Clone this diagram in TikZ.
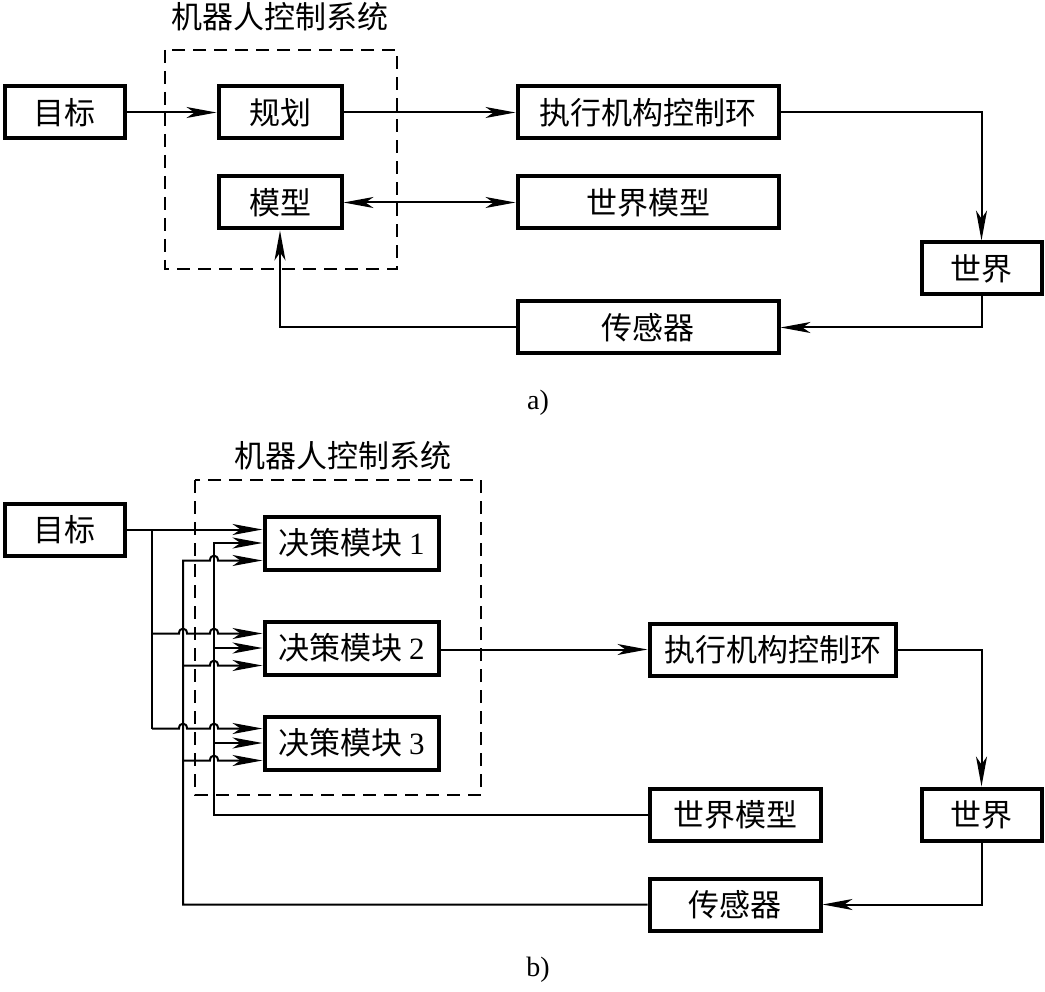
\documentclass[tikz,border=0pt]{standalone}
\usepackage{fontspec}
\setmainfont{Liberation Serif}
\newfontfamily\cjk{Noto Sans CJK SC}
\newfontfamily\lat{Liberation Serif}
\usetikzlibrary{arrows.meta}
\begin{document}
\begin{tikzpicture}[x=1pt,y=-1pt,
  box/.style={draw,line width=4pt,minimum height=52pt,inner sep=0pt,
    font=\fontsize{31}{34}\selectfont\cjk},
  wire/.style={line width=2pt},
  arr/.style={wire,-{Stealth[length=30pt,width=11pt,inset=8pt]}},
  darr/.style={wire,{Stealth[length=30pt,width=11pt,inset=8pt]}-{Stealth[length=30pt,width=11pt,inset=8pt]}},
  frame/.style={line width=2pt,dash pattern=on 13pt off 8pt},
  title/.style={font=\fontsize{31}{34}\selectfont\cjk},
  lab/.style={font=\fontsize{28}{32}\selectfont}]
\useasboundingbox (0,0) rectangle (1045,992);

% ---------------- part a ----------------
\draw[frame] (165,50) rectangle (397,269);
\node[title] (titlea) at (280,17) {机器人控制系统};
\node[box,minimum width=120pt] (tgta) at (64.5,112.5) {目标};
\node[box,minimum width=123pt] (plan) at (280,112.5) {规划};
\node[box,minimum width=123pt] (model) at (280,202.5) {模型};
\node[box,minimum width=261pt] (exa) at (648,112.5) {执行机构控制环};
\node[box,minimum width=261pt] (wma) at (648,202.5) {世界模型};
\node[box,minimum width=120pt] (worlda) at (981.5,268.5) {世界};
\node[box,minimum width=261pt] (sensa) at (648,327.5) {传感器};
\node[lab] (laba) at (538,403) {a)};

\draw[arr] (tgta.east) -- (plan.west);
\draw[arr] (plan.east) -- (exa.west);
\draw[arr] (exa.east) -| (worlda.north);
\draw[arr] (worlda.south) |- (sensa.east);
\draw[arr] (sensa.west) -| (model.south);
\draw[darr] (model.east) -- (wma.west);

% ---------------- part b ----------------
\draw[frame] (195,480) rectangle (481,795);
\node[title] (titleb) at (343,456) {机器人控制系统};
\node[box,minimum width=174pt,minimum height=53pt] (m1) at (351.5,543) {决策模块\ {\lat 1}};
\node[box,minimum width=174pt,minimum height=53pt] (m2) at (351.5,648) {决策模块\ {\lat 2}};
\node[box,minimum width=174pt,minimum height=53pt] (m3) at (351.5,743) {决策模块\ {\lat 3}};
\node[box,minimum width=120pt] (tgtb) at (64.5,529.5) {目标};
\node[box,minimum width=246pt] (exb) at (772.5,649.5) {执行机构控制环};
\node[box,minimum width=171pt] (wmb) at (735,814.5) {世界模型};
\node[box,minimum width=120pt] (worldb) at (981.5,814.5) {世界};
\node[box,minimum width=171pt] (sensb) at (735,904.5) {传感器};
\node[lab] (labb) at (538,970) {b)};

% bus coordinates
\coordinate (tj) at (152,529.5);
\coordinate (t2) at (152,633.5);
\coordinate (t3) at (152,728.5);
\coordinate (w1) at (214,543);
\coordinate (s1) at (183,560.5);
\coordinate (s2) at (183,665.5);
\coordinate (s3) at (183,760.5);

% goal bus
\draw[arr] (tgtb.east) -- (tgtb.east -| m1.west);
\draw[wire] (tj) -- (t3);
\draw[arr] (t2) -- (179,633.5) .. controls (179,627) and (187,627) .. (187,633.5)
  -- (210,633.5) .. controls (210,627) and (218,627) .. (218,633.5) -- (t2 -| m2.west);
\draw[arr] (t3) -- (179,728.5) .. controls (179,722) and (187,722) .. (187,728.5)
  -- (210,728.5) .. controls (210,722) and (218,722) .. (218,728.5) -- (t3 -| m3.west);

% world model bus
\draw[arr] (wmb.west) -| (w1) -- (m1.west);
\draw[arr] (w1 |- m2.west) -- (m2.west);
\draw[arr] (w1 |- m3.west) -- (m3.west);

% sensor bus
\draw[arr] (sensb.west) -| (s1) -- (210,560.5) .. controls (210,554) and (218,554) .. (218,560.5) -- (s1 -| m1.west);
\draw[arr] (s2) -- (210,665.5) .. controls (210,659) and (218,659) .. (218,665.5) -- (s2 -| m2.west);
\draw[arr] (s3) -- (210,760.5) .. controls (210,754) and (218,754) .. (218,760.5) -- (s3 -| m3.west);

% main loop
\draw[arr] (m2.east |- exb.west) -- (exb.west);
\draw[arr] (exb.east) -| (worldb.north);
\draw[arr] (worldb.south) |- (sensb.east);
\end{tikzpicture}
\end{document}
